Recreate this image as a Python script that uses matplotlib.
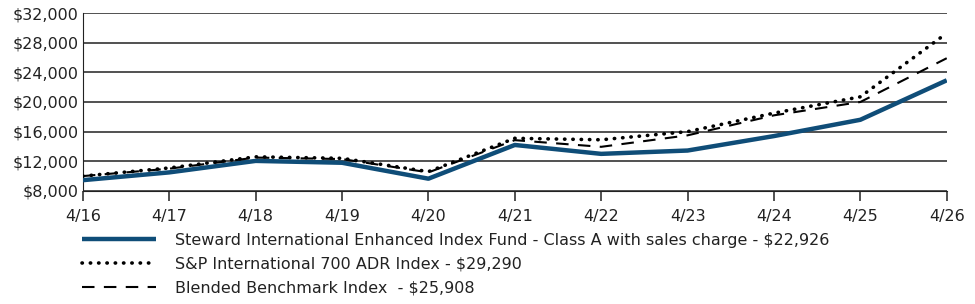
import matplotlib.pyplot as plt
from matplotlib.ticker import FuncFormatter

# Valeurs
periodes = ['4/16', '4/17', '4/18', '4/19', '4/20', '4/21', '4/22', '4/23', '4/24', '4/25', '4/26']
fonds = [9450, 10500, 12050, 11800, 9650, 14200, 13000, 13450, 15400, 17600, 22926]
sp700 = [10000, 11100, 12600, 12400, 10600, 15100, 14900, 16000, 18500, 20700, 29290]
blended = [10000, 11000, 12500, 12300, 10500, 14850, 13950, 15500, 18200, 20000, 25908]

noms = ['Steward International Enhanced Index Fund - Class A with sales charge - $22,926',
        'S&P International 700 ADR Index - $29,290',
        'Blended Benchmark Index  - $25,908']

plt.rcParams['font.family'] = ['DejaVu Sans']

fig = plt.figure(figsize=(9.75, 3.04), dpi=100)
ax = fig.add_axes([0.085, 0.372, 0.886, 0.585])

x = list(range(len(periodes)))
ax.plot(x, fonds, color='#0f4d78', lw=3.2, solid_capstyle='butt', label=noms[0], zorder=3)
ax.plot(x, sp700, color='black', lw=2.6, linestyle=(0, (0.1, 2.2)), dash_capstyle='round', label=noms[1], zorder=4)
ax.plot(x, blended, color='black', lw=1.5, linestyle=(0, (6, 4.5)), label=noms[2], zorder=4)

ax.set_xlim(0, len(periodes) - 1)
ax.set_ylim(8000, 32000)
ax.set_yticks(range(8000, 32001, 4000))
ax.yaxis.set_major_formatter(FuncFormatter(lambda v, p: f'${int(v):,}'))
ax.set_xticks(x)
ax.set_xticklabels(periodes)

ax.grid(axis='y', color='#222222', lw=1.1)
ax.set_axisbelow(True)
for s in ['top', 'right']:
    ax.spines[s].set_visible(False)
ax.spines['left'].set_color('#222222')
ax.spines['bottom'].set_color('#222222')
ax.tick_params(axis='y', length=0, labelsize=11.5, pad=3, colors='#222222')
ax.tick_params(axis='x', length=7, width=1.1, labelsize=11.5, pad=6, colors='#222222')

fig.legend(loc='upper left', bbox_to_anchor=(0.078, 0.255), frameon=False, fontsize=11.5,
           handlelength=4.6, handletextpad=1.2, labelspacing=0.56, borderaxespad=0,
           labelcolor='#222222')

plt.savefig('out.png', dpi=100)
